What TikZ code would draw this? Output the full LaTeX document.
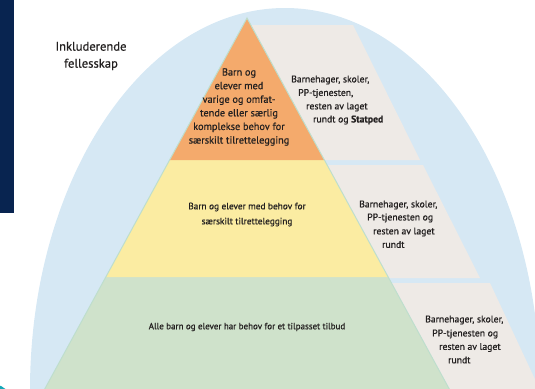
\documentclass[tikz,border=0pt]{standalone}
\usepackage{fontspec}
\setmainfont{PT Sans}[FakeBold=0.6]
\definecolor{navy}{RGB}{8,36,80}
\definecolor{skyblue}{RGB}{214,232,244}
\definecolor{orangetier}{RGB}{244,170,108}
\definecolor{yellowtier}{RGB}{251,236,162}
\definecolor{greentier}{RGB}{207,226,203}
\definecolor{bandgrey}{RGB}{238,234,230}
\definecolor{edgegreen}{RGB}{190,222,205}
\definecolor{teal}{RGB}{20,168,184}
\definecolor{txt}{RGB}{35,32,32}
\begin{document}
\begin{tikzpicture}[x=1pt,y=-1pt,
  lbl/.style={inner sep=0pt, text=txt},
  bandline/.style={lbl, anchor=west, font=\fontsize{9.7}{11}\selectfont}]
\useasboundingbox (0,0) rectangle (535,388);
\begin{scope}
\clip (0,0) rectangle (535,388);
% background ellipse
\fill[skyblue] (285,390) ellipse [x radius=255, y radius=382];
% grey bands
\fill[bandgrey] (250.8,25) -- (353,25) -- (420,160) -- (324.4,160) -- cycle;
\fill[bandgrey] (327.1,165) -- (423,165) -- (480,278) -- (388.7,278) -- cycle;
\fill[bandgrey] (391.4,283) -- (490,283) -- (540,390) -- (449.8,390) -- cycle;
% pyramid tiers
\fill[greentier] (106,277) -- (388,277) -- (449.8,390) -- (44.2,390) -- cycle;
\fill[yellowtier] (169.6,160) -- (324.4,160) -- (388,277) -- (106,277) -- cycle;
\fill[orangetier] (247,18) -- (324.4,160) -- (169.6,160) -- cycle;
\draw[edgegreen, line width=1pt, line join=miter] (44.2,390) -- (247,18) -- (449.8,390);
% navy bar
\fill[navy] (0,0) rectangle (14,213);
% teal corner
\fill[teal] (-4,398) circle [radius=13];
\end{scope}
% texts
\node[lbl, align=center, font=\fontsize{12.6}{17}\selectfont] (title) at (91,56) {Inkluderende\\fellesskap};
\node[lbl, align=center, font=\fontsize{10.3}{13.6}\selectfont] (top) at (239,107)
  {Barn og\\elever med\\varige og omfat-\\tende eller særlig\\komplekse behov for\\særskilt tilrettelegging};
\node[lbl, align=center, font=\fontsize{9.3}{15}\selectfont] (mid) at (247,214.5)
  {Barn og elever med behov for\\særskilt tilrettelegging};
\node[lbl, font=\fontsize{9}{11}\selectfont] (base) at (247,327)
  {Alle barn og elever har behov for et tilpasset tilbud};
% band 1
\node[bandline] (b1a) at (291,80) {Barnehager, skoler,};
\node[bandline] (b1b) at (298,93.5) {PP-tjenesten,};
\node[bandline] (b1c) at (306,107) {resten av laget};
\node[bandline] (b1d) at (313,120) {rundt og \textbf{Statped}};
% band 2
\node[bandline] (b2a) at (359,205) {Barnehager, skoler,};
\node[bandline] (b2b) at (367,218) {PP-tjenesten og};
\node[bandline] (b2c) at (373,232) {resten av laget};
\node[bandline] (b2d) at (382,244.5) {rundt};
% band 3
\node[bandline] (b3a) at (425,320) {Barnehager, skoler,};
\node[bandline] (b3b) at (432,334) {PP-tjenesten og};
\node[bandline] (b3c) at (439,347.5) {resten av laget};
\node[bandline] (b3d) at (448,360) {rundt};
\end{tikzpicture}
\end{document}
